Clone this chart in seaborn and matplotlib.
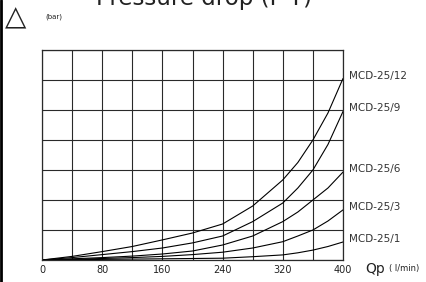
import pandas as pd
import matplotlib
matplotlib.use("Agg")
import matplotlib.pyplot as plt
import seaborn as sns
from matplotlib.lines import Line2D

# flow (l/min) and pressure drop (grid units, bar)
flow = [0, 40, 80, 120, 160, 200, 240, 280, 320, 340, 360, 380, 400]
dp_12 = [0, 0.12, 0.28, 0.45, 0.67, 0.9, 1.2, 1.8, 2.67, 3.25, 4.0, 4.9, 6.05]
dp_9 = [0, 0.08, 0.18, 0.28, 0.4, 0.57, 0.8, 1.28, 1.9, 2.4, 3.0, 3.85, 4.95]
dp_6 = [0, 0.04, 0.08, 0.13, 0.2, 0.3, 0.5, 0.8, 1.28, 1.6, 2.0, 2.4, 2.93]
dp_3 = [0, 0.02, 0.05, 0.08, 0.12, 0.18, 0.26, 0.4, 0.61, 0.8, 1.0, 1.3, 1.67]
dp_1 = [0, 0.01, 0.02, 0.03, 0.04, 0.05, 0.06, 0.11, 0.17, 0.24, 0.33, 0.45, 0.6]

models = ["MCD-25/12", "MCD-25/9", "MCD-25/6", "MCD-25/3", "MCD-25/1"]
series = [dp_12, dp_9, dp_6, dp_3, dp_1]
x_ticks = [0, 80, 160, 240, 320, 400]

df = pd.concat(
    [pd.DataFrame({"flow": flow, "dp": s, "model": m}) for m, s in zip(models, series)],
    ignore_index=True,
)

sns.set_style("white")
plt.rcParams["font.family"] = ["DejaVu Sans"]

fig = plt.figure(figsize=(4.26, 2.82), dpi=100)
ax = fig.add_axes([42 / 426, 22 / 282, 301 / 426, 210 / 282])

sns.lineplot(data=df, x="flow", y="dp", hue="model", palette=["black"] * 5,
             linewidth=0.8, legend=False, ax=ax)

ax.set_xlim(0, 400)
ax.set_ylim(0, 7)
ax.set_xticks(range(0, 401, 40))
ax.set_yticks(range(0, 8))
ax.grid(True, color="#2a2a2a", linewidth=0.8)
ax.tick_params(length=0, labelleft=False, labelbottom=False)
for sp in ax.spines.values():
    sp.set_color("#2a2a2a")
    sp.set_linewidth(0.9)
ax.set_xlabel("")
ax.set_ylabel("")

# tick labels below the grid
for v in x_ticks:
    ax.text(v, -0.33, str(v), ha="center", va="center", fontsize=7, color="#222",
            transform=ax.transData)

# curve labels at right end
for m, s in zip(models, series):
    ax.text(408, s[-1] + 0.1, m, ha="left", va="center", fontsize=7.5, color="#333",
            clip_on=False)

ax.text(429, -0.3, "Qp", ha="left", va="center", fontsize=10, color="#222", clip_on=False)
ax.text(461, -0.3, "( l/min)", ha="left", va="center", fontsize=6, color="#222", clip_on=False)

# title sits partly above the top edge, as in the source image
fig.text(204 / 426, 1 - 5.5 / 282, "Pressure drop (P-T)", ha="center", va="baseline",
         fontsize=16.5, color="#222")
fig.text(16 / 426, 1 - 17 / 282, "\u25b3", ha="center", va="center", fontsize=20, color="#222")
fig.text(45 / 426, 1 - 17 / 282, "(bar)", ha="left", va="center", fontsize=5, color="#222")

# black left border of the drawing
fig.add_artist(Line2D([0.002, 0.002], [0, 1], transform=fig.transFigure, color="black", linewidth=2))

fig.savefig("out.png", dpi=100)
